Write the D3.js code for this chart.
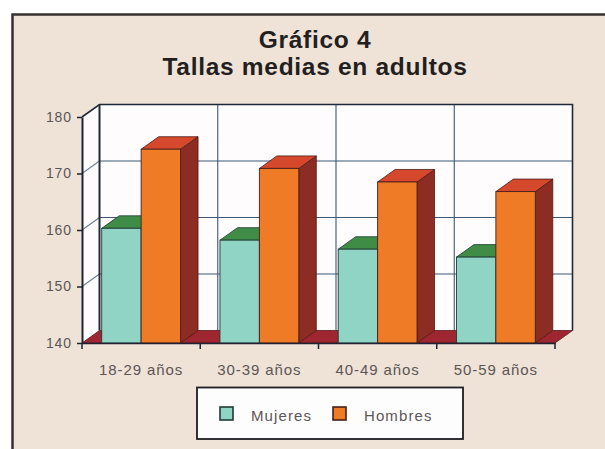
<!DOCTYPE html>
<html>
<head>
<meta charset="utf-8">
<script src="https://cdn.jsdelivr.net/npm/d3@7"></script>
<style>
  html,body{margin:0;padding:0;background:#fff;}
  svg{display:block;}
</style>
</head>
<body>
<div id="chart"></div>
<script>
const categories = ['18-29 años','30-39 años','40-49 años','50-59 años'];
const series = ['Mujeres','Hombres'];
const mujeres = [160.3, 158.2, 156.6, 155.2];
const hombres = [174.3, 170.9, 168.5, 166.8];
const yTicks = [140,150,160,170,180];
const titleLines = ['Gráfico 4','Tallas medias en adultos'];

const colors = {
  Mujeres:{front:'#8fd4c5', top:'#3f8c47', side:'#2e6b38', edge:'#1f3b33'},
  Hombres:{front:'#ef7b26', top:'#d6482c', side:'#8c2c22', edge:'#4a1e18'}
};

const W = 605, H = 449;
const dx = 17.5, dy = -12.5;   // depth offset of the 3d box

const svg = d3.select('#chart').append('svg').attr('width', W).attr('height', H);

// panel
svg.append('rect').attr('x',12.5).attr('y',14.5).attr('width',600).attr('height',440)
  .attr('fill','#efe2d7').attr('stroke','#363232').attr('stroke-width',2.5);

// title
svg.selectAll('.title').data(titleLines).enter().append('text')
  .attr('x',315).attr('y',(d,i)=>47.5+i*27)
  .attr('text-anchor','middle')
  .style('font-family','"Liberation Sans", Arial, sans-serif')
  .style('font-weight','bold').style('font-size','24.5px').style('letter-spacing','0.7px')
  .attr('fill','#231f1f').text(d=>d);

const x = d3.scaleBand().domain(categories).range([82,555]).paddingInner(0).paddingOuter(0);
const xs = d3.scaleBand().domain(series).range([0, x.bandwidth()]).paddingOuter(0.5).paddingInner(0);
const y = d3.scaleLinear().domain([140,180]).range([343,117]);

const x0 = x.range()[0], x1 = x.range()[1];
const yb = y(140), yt = y(180);
const pt = p => p.map(q=>q.join(',')).join(' ');

// left wall
svg.append('polygon').attr('points', pt([[x0,yb],[x0,yt],[x0+dx,yt+dy],[x0+dx,yb+dy]]))
  .attr('fill','#fdfbfc');
// back wall
svg.append('rect').attr('x',x0+dx).attr('y',yt+dy).attr('width',x1-x0).attr('height',yb-yt)
  .attr('fill','#fefcfd');

const grid = svg.append('g').attr('stroke','#3d5876').attr('stroke-width',1.1).attr('fill','none');
// horizontal gridlines on back wall + diagonal on left wall
yTicks.filter(v=>v>140 && v<180).forEach(v=>{
  grid.append('line').attr('x1',x0+dx).attr('x2',x1+dx).attr('y1',y(v)+dy).attr('y2',y(v)+dy);
  grid.append('line').attr('x1',x0).attr('x2',x0+dx).attr('y1',y(v)).attr('y2',y(v)+dy).attr('stroke','#6f7f93');
});
// vertical gridlines on back wall
const bounds = categories.map(c=>x(c)).concat([x1]);
bounds.slice(1,-1).forEach(b=>{
  grid.append('line').attr('x1',b+dx).attr('x2',b+dx).attr('y1',yt+dy).attr('y2',yb+dy);
});
// back wall outline
svg.append('polyline').attr('points', pt([[x0,yt],[x0+dx,yt+dy],[x1+dx,yt+dy],[x1+dx,yb+dy]]))
  .attr('fill','none').attr('stroke','#1f2a38').attr('stroke-width',1.6);
svg.append('line').attr('x1',x0+dx).attr('x2',x0+dx).attr('y1',yt+dy).attr('y2',yb+dy)
  .attr('stroke','#1f2a38').attr('stroke-width',2);

// floor
svg.append('polygon').attr('points', pt([[x0,yb],[x1,yb],[x1+dx,yb+dy],[x0+dx,yb+dy]]))
  .attr('fill','#9e2631').attr('stroke','#5a1a1e').attr('stroke-width',0.8);

// bars
const bars = [];
categories.forEach((c,i)=>{
  bars.push({cat:c, s:'Mujeres', v:mujeres[i]});
  bars.push({cat:c, s:'Hombres', v:hombres[i]});
});
const bg = svg.selectAll('.bar').data(bars).enter().append('g').attr('class','bar');
bg.each(function(d){
  const g = d3.select(this);
  const l = x(d.cat)+xs(d.s), r = l+xs.bandwidth(), t = y(d.v), b = yb;
  const col = colors[d.s];
  g.append('polygon').attr('points', pt([[r,b],[r,t],[r+dx,t+dy],[r+dx,b+dy]]))
    .attr('fill',col.side).attr('stroke',col.edge).attr('stroke-width',0.8);
  g.append('polygon').attr('points', pt([[l,t],[r,t],[r+dx,t+dy],[l+dx,t+dy]]))
    .attr('fill',col.top).attr('stroke',col.edge).attr('stroke-width',0.8);
  g.append('rect').attr('x',l).attr('y',t).attr('width',r-l).attr('height',b-t)
    .attr('fill',col.front).attr('stroke',col.edge).attr('stroke-width',0.9);
});

const labelFont = '"Liberation Sans", Arial, sans-serif';

// y axis
const ya = svg.append('g').attr('transform',`translate(${x0},0)`)
  .call(d3.axisLeft(y).tickValues(yTicks).tickSize(5).tickPadding(5).tickSizeOuter(0));
ya.select('.domain').attr('stroke','#1e2233').attr('stroke-width',2);
ya.selectAll('.tick line').attr('stroke','#1e2233').attr('stroke-width',1.5);
ya.selectAll('.tick text').attr('fill','#5b5656')
  .style('font-family',labelFont).style('font-size','14px').style('letter-spacing','0.9px');

// x axis
const xa = svg.append('g').attr('transform',`translate(0,${yb})`)
  .call(d3.axisBottom(x).tickSize(0).tickPadding(21).tickSizeOuter(0));
xa.select('.domain').attr('stroke','#1e2233').attr('stroke-width',1.6);
xa.selectAll('.tick text').attr('fill','#5b5656')
  .style('font-family',labelFont).style('font-size','15px').style('letter-spacing','0.9px');
xa.selectAll('.bound').data(bounds).enter().append('line')
  .attr('x1',d=>d).attr('x2',d=>d).attr('y1',0).attr('y2',6)
  .attr('stroke','#1e2233').attr('stroke-width',1.5);

// legend
const lg = svg.append('g');
lg.append('rect').attr('x',197).attr('y',387.5).attr('width',266).attr('height',51.5)
  .attr('fill','#fefdfd').attr('stroke','#1d1d22').attr('stroke-width',1.8);
const lx = d3.scaleOrdinal().domain(series).range([220,333]);
series.forEach(s=>{
  lg.append('rect').attr('x',lx(s)).attr('y',407).attr('width',13).attr('height',13)
    .attr('fill',colors[s].front).attr('stroke',colors[s].edge).attr('stroke-width',1.6);
  lg.append('text').attr('x',lx(s)+31).attr('y',421).attr('fill','#5b5656')
    .style('font-family',labelFont).style('font-size','15px').style('letter-spacing','1.1px')
    .text(s);
});
</script>
</body>
</html>
